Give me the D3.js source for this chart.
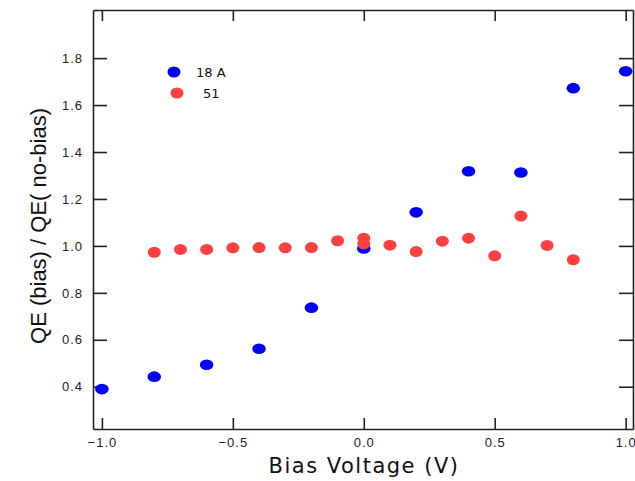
<!DOCTYPE html>
<html><head><meta charset="utf-8">
<script src="https://cdn.jsdelivr.net/npm/d3@7"></script>
<style>body{margin:0;background:#fff}svg{display:block}</style>
</head><body>
<script>
const xTicks = [-1.0, -0.5, 0.0, 0.5, 1.0];
const yTicks = [0.4, 0.6, 0.8, 1.0, 1.2, 1.4, 1.6, 1.8];
const seriesNames = ["18 A", "51"];
const seriesColors = ["#0000f5", "#ff4040"];
const bias18A = [-1.0, -0.8, -0.6, -0.4, -0.2, 0.0, 0.2, 0.4, 0.6, 0.8, 1.0];
const qe18A = [0.39, 0.443, 0.494, 0.562, 0.737, 0.989, 1.143, 1.318, 1.313, 1.672, 1.744];
const bias51 = [-0.8, -0.7, -0.6, -0.5, -0.4, -0.3, -0.2, -0.1, 0.0, 0.0, 0.1, 0.2, 0.3, 0.4, 0.5, 0.6, 0.7, 0.8];
const qe51 = [0.973, 0.985, 0.985, 0.992, 0.993, 0.992, 0.993, 1.022, 1.009, 1.033, 1.003, 0.976, 1.02, 1.033, 0.958, 1.127, 1.002, 0.941];

const W = 635, H = 481;
const L = 93, R = 633, T = 10, B = 429;
const svg = d3.select("body").append("svg").attr("width", W).attr("height", H);
const x = d3.scaleLinear().domain([-1.034, 1.028]).range([L, R]);
const y = d3.scaleLinear().domain([0.22, 2.005]).range([B, T]);

const axisColor = "#222";
const tickFont = "'Liberation Sans', Arial, sans-serif";

function styleAxis(g) {
  g.selectAll("path.domain").attr("stroke", axisColor).attr("stroke-width", 1.6);
  g.selectAll(".tick line").attr("stroke", axisColor).attr("stroke-width", 1.6);
  g.selectAll(".tick text").attr("fill", "#222").style("font-family", tickFont).style("font-size", "13px").style("letter-spacing", "1px");
}

// bottom
svg.append("g").attr("transform", `translate(0,${B})`)
  .call(d3.axisBottom(x).tickValues(xTicks).tickFormat(d3.format(".1f")).tickSizeInner(-11).tickSizeOuter(0).tickPadding(9))
  .call(styleAxis);
// top
svg.append("g").attr("transform", `translate(0,${T})`)
  .call(d3.axisTop(x).tickValues(xTicks).tickFormat("").tickSizeInner(-11).tickSizeOuter(0))
  .call(styleAxis);
// left
svg.append("g").attr("transform", `translate(${L},0)`)
  .call(d3.axisLeft(y).tickValues(yTicks).tickFormat(d3.format(".1f")).tickSizeInner(-14).tickSizeOuter(0).tickPadding(10))
  .call(styleAxis);
// right
svg.append("g").attr("transform", `translate(${R},0)`)
  .call(d3.axisRight(y).tickValues(yTicks).tickFormat("").tickSizeInner(-14).tickSizeOuter(0))
  .call(styleAxis);

// data
const s18 = bias18A.map((v, i) => ({x: v, y: qe18A[i]}));
const s51 = bias51.map((v, i) => ({x: v, y: qe51[i]}));

svg.append("g").selectAll("ellipse").data(s18).join("ellipse")
  .attr("cx", d => x(d.x)).attr("cy", d => y(d.y)).attr("rx", 6.8).attr("ry", 5.3)
  .attr("fill", seriesColors[0]);
svg.append("g").selectAll("ellipse").data(s51).join("ellipse")
  .attr("cx", d => x(d.x)).attr("cy", d => y(d.y)).attr("rx", 6.5).attr("ry", 5.5)
  .attr("fill", seriesColors[1]);

// legend
const legend = [{n: seriesNames[0], c: seriesColors[0], cx: 174, cy: 72, tx: 196},
                {n: seriesNames[1], c: seriesColors[1], cx: 177, cy: 93, tx: 203}];
const lg = svg.append("g");
lg.selectAll("ellipse").data(legend).join("ellipse")
  .attr("cx", d => d.cx).attr("cy", d => d.cy).attr("rx", 6.5).attr("ry", 5.5).attr("fill", d => d.c);
lg.selectAll("text").data(legend).join("text")
  .attr("x", d => d.tx).attr("y", d => d.cy + 5).text(d => d.n)
  .style("font-family", "'Comic Sans MS', 'DejaVu Sans', sans-serif").style("font-size", "13px").attr("fill", "#111");

// titles
svg.append("text").attr("x", 364).attr("y", 473).attr("text-anchor", "middle")
  .style("font-family", "'Comic Sans MS', 'DejaVu Sans', sans-serif").style("font-size", "21px")
  .style("letter-spacing", "1.5px").attr("fill", "#111").text("Bias Voltage (V)");
svg.append("text").attr("transform", "translate(46,226) rotate(-90)").attr("text-anchor", "middle")
  .style("font-family", "'Liberation Sans', Arial, sans-serif").style("font-size", "22px")
  .attr("fill", "#111").text("QE (bias) / QE( no-bias)");
</script>
</body></html>
